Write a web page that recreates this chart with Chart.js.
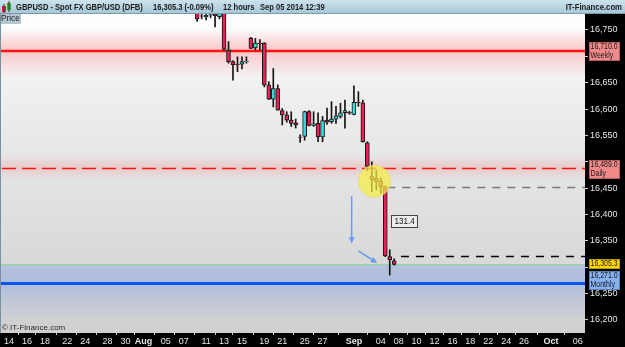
<!DOCTYPE html>
<html>
<head>
<meta charset="utf-8">
<script src="https://cdn.jsdelivr.net/npm/chart.js@4.4.0/dist/chart.umd.min.js"></script>
<style>
  html, body { margin: 0; padding: 0; background: #000; overflow: hidden; }
  canvas { display: block; }
</style>
</head>
<body>
<canvas id="chart" width="625" height="347"></canvas>
<script>
// 12 hour bars, index 0 = Mon Jul 14 first bar (Sunday has one short bar)
const barIdx = [42, 43, 44, 45, 46, 47, 48, 49, 50, 51, 52, 53, 54, 55, 56, 57, 58, 59, 60, 61, 62, 63,
  64, 65, 66, 67, 68, 69, 70, 71, 72, 73, 74, 75, 76, 77, 78, 79, 80, 81, 82, 83, 84, 85, 86];
const opens = [16790, 16777, 16775, 16778, 16780, 16775, 16784, 16712, 16690, 16685, 16685, 16690, 16734, 16716, 16725,
  16725, 16646, 16619, 16639, 16597, 16589, 16579, 16574, 16547, 16548, 16595, 16569, 16573, 16547, 16579, 16576,
  16581, 16586, 16593, 16594, 16590, 16613, 16612, 16536, 16473, 16469, 16464, 16452.7, 16320, 16312];
const highs = [16796, 16780, 16781, 16782, 16783, 16786, 16788, 16728, 16692, 16699, 16699, 16699, 16736, 16734, 16732,
  16726, 16652, 16677, 16646, 16601, 16595, 16595, 16581, 16551, 16596, 16597, 16595, 16593, 16586, 16602, 16614,
  16605, 16611, 16617, 16596, 16644, 16633, 16617, 16538, 16500, 16485, 16469, 16454, 16333, 16316];
const lows = [16766, 16771, 16769, 16773, 16756, 16771, 16712, 16687, 16655, 16671, 16676, 16687, 16715, 16712, 16712,
  16642, 16618, 16604, 16598, 16570, 16575, 16567, 16564, 16537, 16541, 16568, 16567, 16538, 16538, 16571, 16573,
  16573, 16583, 16564, 16590, 16589, 16605, 16537, 16484, 16443, 16447, 16440, 16320, 16285, 16304];
const closes = [16771, 16776, 16778, 16779, 16777, 16782, 16713, 16690, 16684, 16684, 16690, 16691, 16715, 16725, 16724,
  16646, 16619, 16639, 16598, 16589, 16579, 16573, 16570, 16546, 16595, 16569, 16572, 16547, 16578, 16575, 16581,
  16587, 16593, 16597, 16592, 16613, 16612, 16538, 16491, 16466, 16462, 16453, 16321.3, 16314, 16305.3];

const xTickIdx = [0, 4, 8, 13, 17, 22, 26, 30, 35, 39, 44, 48, 52, 57, 61, 66, 70, 77, 83, 87, 91, 95, 99, 103, 107, 111, 115, 121, 127];
const xTickLabels = ['14', '16', '18', '22', '24', '28', '30', 'Aug', '05', '07', '11', '13', '15', '19', '21', '25', '27',
  'Sep', '04', '08', '10', '12', '16', '18', '22', '24', '26', 'Oct', '06'];
const monthLabels = ['Aug', 'Sep', 'Oct'];
const yTicks = [16200, 16250, 16300, 16350, 16400, 16450, 16500, 16550, 16600, 16650, 16700, 16750];

const levelNames = ['Weekly', 'Daily', 'Monthly'];
const levelValues = [16710, 16489, 16271];
const lastPrice = 16305.3;
const bigBar = 84; // the candle measured by the dashed lines

const title = 'GBPUSD - Spot FX GBP/USD (DFB)';
const quote = '16,305.3 (-0.09%)';
const period = '12 hours';
const stamp = 'Sep 05 2014 12:39';

const RED = '#e52157', CYAN = '#38dada';
const fmt = v => v.toLocaleString('en-US', { minimumFractionDigits: 0, maximumFractionDigits: 0 });
const fmt1 = v => v.toLocaleString('en-US', { minimumFractionDigits: 1, maximumFractionDigits: 1 });

const bodies = barIdx.map((x, i) => ({ x: x, y: [Math.min(opens[i], closes[i]), Math.max(opens[i], closes[i])] }));
const wicks = barIdx.map((x, i) => ({ x: x, y: [lows[i], highs[i]] }));
const bodyColors = barIdx.map((x, i) => closes[i] >= opens[i] ? CYAN : RED);

const FONT = "'Liberation Sans', Arial, sans-serif";

function tickLabel(v) {
  const j = xTickIdx.indexOf(v);
  return j < 0 ? '' : xTickLabels[j];
}

// axis labels hidden behind a price tag
function coveredByTag(v) {
  return levelValues.concat([lastPrice]).some(l => Math.abs(l - v) < 15);
}

// narrow text, the original uses a condensed UI face
function squeeze(ctx, s, x, y, sx) {
  ctx.save();
  ctx.translate(x, y);
  ctx.scale(sx, 1);
  ctx.fillText(s, 0, 0);
  ctx.restore();
}

function arrow(ctx, x1, y1, x2, y2) {
  const a = Math.atan2(y2 - y1, x2 - x1), h = 7;
  ctx.beginPath();
  ctx.moveTo(x1, y1);
  ctx.lineTo(x2 - Math.cos(a) * h * 0.8, y2 - Math.sin(a) * h * 0.8);
  ctx.stroke();
  ctx.beginPath();
  ctx.moveTo(x2, y2);
  ctx.lineTo(x2 - h * Math.cos(a - 0.45), y2 - h * Math.sin(a - 0.45));
  ctx.lineTo(x2 - h * Math.cos(a + 0.45), y2 - h * Math.sin(a + 0.45));
  ctx.closePath();
  ctx.fill();
}

const decor = {
  id: 'decor',
  beforeDraw(chart) {
    const { ctx, chartArea: a, scales: { y } } = chart;
    ctx.save();
    ctx.fillStyle = '#000';
    ctx.fillRect(0, 0, chart.width, chart.height);
    const g = ctx.createLinearGradient(0, a.top, 0, a.bottom);
    g.addColorStop(0, '#ffffff');
    g.addColorStop(0.25, '#efefef');
    g.addColorStop(1, '#cfcfcf');
    ctx.fillStyle = g;
    ctx.fillRect(a.left, a.top, a.width, a.height);

    ctx.beginPath();
    ctx.rect(a.left, a.top, a.width, a.height);
    ctx.clip();
    // weekly glow
    let py = y.getPixelForValue(levelValues[0]);
    let bg = ctx.createLinearGradient(0, py - 22, 0, py + 26);
    bg.addColorStop(0, 'rgba(250,150,150,0)');
    bg.addColorStop(0.45, 'rgba(250,150,150,0.5)');
    bg.addColorStop(1, 'rgba(250,150,150,0)');
    ctx.fillStyle = bg;
    ctx.fillRect(a.left, py - 22, a.width, 48);
    // daily glow
    py = y.getPixelForValue(levelValues[1]);
    bg = ctx.createLinearGradient(0, py - 12, 0, py + 12);
    bg.addColorStop(0, 'rgba(240,150,150,0)');
    bg.addColorStop(0.5, 'rgba(240,150,150,0.35)');
    bg.addColorStop(1, 'rgba(240,150,150,0)');
    ctx.fillStyle = bg;
    ctx.fillRect(a.left, py - 12, a.width, 24);
    // monthly glow, starting at the last price
    const top = y.getPixelForValue(lastPrice);
    py = y.getPixelForValue(levelValues[2]);
    bg = ctx.createLinearGradient(0, top, 0, py + 38);
    bg.addColorStop(0, 'rgba(150,175,225,0.55)');
    bg.addColorStop((py - top) / (py + 38 - top), 'rgba(150,175,225,0.6)');
    bg.addColorStop(1, 'rgba(150,175,225,0)');
    ctx.fillStyle = bg;
    ctx.fillRect(a.left, top, a.width, py + 38 - top);
    ctx.restore();
  },
  beforeDatasetsDraw(chart) {
    const { ctx, chartArea: a, scales: { y } } = chart;
    ctx.save();
    ctx.beginPath();
    ctx.rect(a.left, a.top, a.width, a.height);
    ctx.clip();
    let py = Math.round(y.getPixelForValue(levelValues[0]));
    ctx.strokeStyle = '#ff1414';
    ctx.lineWidth = 2.5;
    ctx.beginPath(); ctx.moveTo(a.left, py); ctx.lineTo(a.right, py); ctx.stroke();
    py = Math.round(y.getPixelForValue(levelValues[1])) + 0.5;
    ctx.lineWidth = 1.5;
    ctx.setLineDash([14, 6]);
    ctx.beginPath(); ctx.moveTo(a.left + 1, py); ctx.lineTo(a.right, py); ctx.stroke();
    ctx.setLineDash([]);
    py = Math.round(y.getPixelForValue(lastPrice)) + 0.5;
    ctx.strokeStyle = '#8fd88f';
    ctx.lineWidth = 1;
    ctx.beginPath(); ctx.moveTo(a.left, py); ctx.lineTo(a.right, py); ctx.stroke();
    py = Math.round(y.getPixelForValue(levelValues[2])) + 0.5;
    ctx.strokeStyle = '#0a55f0';
    ctx.lineWidth = 3;
    ctx.beginPath(); ctx.moveTo(a.left, py); ctx.lineTo(a.right, py); ctx.stroke();
    ctx.restore();
  },
  afterDatasetsDraw(chart) {
    const { ctx, chartArea: a, scales: { x, y } } = chart;
    const k = barIdx.indexOf(bigBar);
    ctx.save();
    ctx.beginPath();
    ctx.rect(a.left, a.top, a.width, a.height);
    ctx.clip();
    // measured move of the big candle
    ctx.lineWidth = 1.5;
    ctx.setLineDash([8, 7]);
    ctx.strokeStyle = '#7a7a7a';
    let py = Math.round(y.getPixelForValue(opens[k])) + 0.5;
    ctx.beginPath(); ctx.moveTo(x.getPixelForValue(bigBar) + 2, py); ctx.lineTo(a.right, py); ctx.stroke();
    ctx.strokeStyle = '#000';
    py = Math.round(y.getPixelForValue(closes[k])) + 0.5;
    ctx.beginPath(); ctx.moveTo(x.getPixelForValue(bigBar + 3.5), py); ctx.lineTo(a.right, py); ctx.stroke();
    ctx.setLineDash([]);
    const txt = fmt1(opens[k] - closes[k]);
    const mx = x.getPixelForValue(bigBar + 4.3), my = y.getPixelForValue((opens[k] + closes[k]) / 2);
    ctx.font = '9px ' + FONT;
    const tw = ctx.measureText(txt).width * 0.9;
    const bx = Math.round(mx - tw / 2 - 3) + 0.5, by = Math.round(my - 6) + 0.5;
    ctx.fillStyle = '#ececec';
    ctx.fillRect(bx, by, Math.round(tw + 6), 12);
    ctx.strokeStyle = '#444';
    ctx.lineWidth = 1;
    ctx.strokeRect(bx, by, Math.round(tw + 6), 12);
    ctx.fillStyle = '#111';
    ctx.textAlign = 'left';
    ctx.textBaseline = 'middle';
    squeeze(ctx, txt, bx + 3, my + 0.5, 0.9);
    // highlight circle
    ctx.fillStyle = 'rgba(248,238,70,0.72)';
    ctx.strokeStyle = 'rgba(230,220,120,0.9)';
    ctx.beginPath();
    ctx.arc(x.getPixelForValue(81.6), y.getPixelForValue(16463), 16, 0, Math.PI * 2);
    ctx.fill();
    ctx.stroke();
    // arrows
    ctx.strokeStyle = '#6b9cf2';
    ctx.fillStyle = '#6b9cf2';
    ctx.lineWidth = 1.5;
    arrow(ctx, x.getPixelForValue(76.5), y.getPixelForValue(16435), x.getPixelForValue(76.5), y.getPixelForValue(16345));
    arrow(ctx, x.getPixelForValue(78.0), y.getPixelForValue(16331), x.getPixelForValue(82.2), y.getPixelForValue(16308));
    ctx.restore();
  },
  afterDraw(chart) {
    const { ctx, chartArea: a, scales: { y } } = chart;
    ctx.save();
    // header
    const hg = ctx.createLinearGradient(0, 0, 0, a.top);
    hg.addColorStop(0, '#cde3ec');
    hg.addColorStop(1, '#a3c6d6');
    ctx.fillStyle = hg;
    ctx.fillRect(0, 0, chart.width, a.top);
    ctx.fillStyle = '#7d9aa8';
    ctx.fillRect(0, a.top - 1, chart.width, 1);
    // icon
    ctx.fillStyle = '#e0203a';
    ctx.fillRect(2, 6, 4, 6);
    ctx.fillStyle = '#2ab52a';
    ctx.fillRect(7, 3, 4, 7);
    ctx.fillStyle = '#333';
    ctx.fillRect(3.5, 4, 1, 9);
    ctx.fillRect(8.5, 1, 1, 11);
    ctx.font = 'bold 9px ' + FONT;
    ctx.fillStyle = '#1b1b1b';
    ctx.textBaseline = 'middle';
    ctx.textAlign = 'left';
    squeeze(ctx, title, 16, 7.5, 0.84);
    squeeze(ctx, quote, 153, 7.5, 0.84);
    squeeze(ctx, period, 223, 7.5, 0.84);
    squeeze(ctx, stamp, 260, 7.5, 0.84);
    ctx.textAlign = 'right';
    squeeze(ctx, 'IT-Finance.com', chart.width - 3, 7.5, 0.86);
    // "Price" tag
    ctx.fillStyle = '#b4c7d0';
    ctx.fillRect(a.left - 1, a.top, 21, 10);
    ctx.fillStyle = '#1b1b1b';
    ctx.font = '9px ' + FONT;
    ctx.textAlign = 'left';
    squeeze(ctx, 'Price', 1, a.top + 5, 0.92);
    // copyright
    ctx.fillStyle = '#2a2a2a';
    ctx.font = '8px ' + FONT;
    ctx.fillText('\u00a9 IT-Finance.com', 2, a.bottom - 5);
    // left edge
    ctx.fillStyle = '#7890a0';
    ctx.fillRect(0, a.top, 1, a.bottom - a.top);
    // price tags on the axis
    const tags = [
      { v: levelValues[0], lines: [fmt1(levelValues[0]), levelNames[0]], bg: '#f08a8a', bd: '#b75c5c', up: 9 },
      { v: levelValues[1], lines: [fmt1(levelValues[1]), levelNames[1]], bg: '#f08a8a', bd: '#b75c5c', up: 8 },
      { v: lastPrice, lines: [fmt1(lastPrice)], bg: '#ffd500', bd: '#b89a00', up: 5 },
      { v: levelValues[2], lines: [fmt1(levelValues[2]), levelNames[2]], bg: '#86b2f2', bd: '#5a7fb8', up: 12 }
    ];
    ctx.font = '8.5px ' + FONT;
    ctx.textAlign = 'left';
    tags.forEach(t => {
      const py = y.getPixelForValue(t.v);
      const h = t.lines.length === 1 ? 10 : 19;
      const top = Math.round(py - t.up);
      ctx.fillStyle = t.bg;
      ctx.fillRect(a.right + 4, top, 31, h);
      ctx.strokeStyle = t.bd;
      ctx.lineWidth = 1;
      ctx.strokeRect(a.right + 4.5, top + 0.5, 30, h - 1);
      ctx.fillStyle = '#1a1a1a';
      t.lines.forEach((s, j) => squeeze(ctx, s, a.right + 5.5, top + 5 + j * 9, 0.82));
    });
    ctx.restore();
  }
};

new Chart(document.getElementById('chart'), {
  type: 'bar',
  data: {
    datasets: [
      {
        data: bodies,
        backgroundColor: bodyColors,
        borderColor: '#151515',
        borderWidth: 1,
        borderSkipped: false,
        barThickness: 4,
        grouped: false
      },
      {
        data: wicks,
        backgroundColor: '#151515',
        borderWidth: 0,
        barThickness: 1,
        grouped: false
      }
    ]
  },
  options: {
    responsive: false,
    animation: false,
    events: [],
    layout: { padding: { top: 14, left: 1, right: 0, bottom: 0 } },
    plugins: { legend: { display: false }, tooltip: { enabled: false } },
    scales: {
      x: {
        type: 'linear',
        min: -1.8,
        max: 128.6,
        offset: false,
        afterFit(s) { s.height = 14; },
        afterBuildTicks(s) { s.ticks = xTickIdx.map(v => ({ value: v })); },
        grid: { drawOnChartArea: false, drawTicks: true, tickLength: 2, color: '#cfcfcf' },
        border: { display: false },
        ticks: {
          autoSkip: false,
          maxRotation: 0,
          padding: 1,
          color: '#e6e6e6',
          font: c => ({
            family: FONT,
            size: 9,
            weight: c.tick && monthLabels.includes(tickLabel(c.tick.value)) ? 'bold' : 'normal'
          }),
          callback: v => tickLabel(v)
        }
      },
      y: {
        position: 'right',
        min: 16175.3,
        max: 16780.3,
        afterFit(s) { s.width = 40; },
        afterBuildTicks(s) { s.ticks = yTicks.map(v => ({ value: v })); },
        grid: { drawOnChartArea: false, drawTicks: true, tickLength: 3, color: '#cfcfcf' },
        border: { display: false },
        ticks: {
          padding: 2,
          color: '#e6e6e6',
          font: { family: FONT, size: 9 },
          callback: v => coveredByTag(v) ? '' : fmt(v)
        }
      }
    }
  },
  plugins: [decor]
});
</script>
</body>
</html>
